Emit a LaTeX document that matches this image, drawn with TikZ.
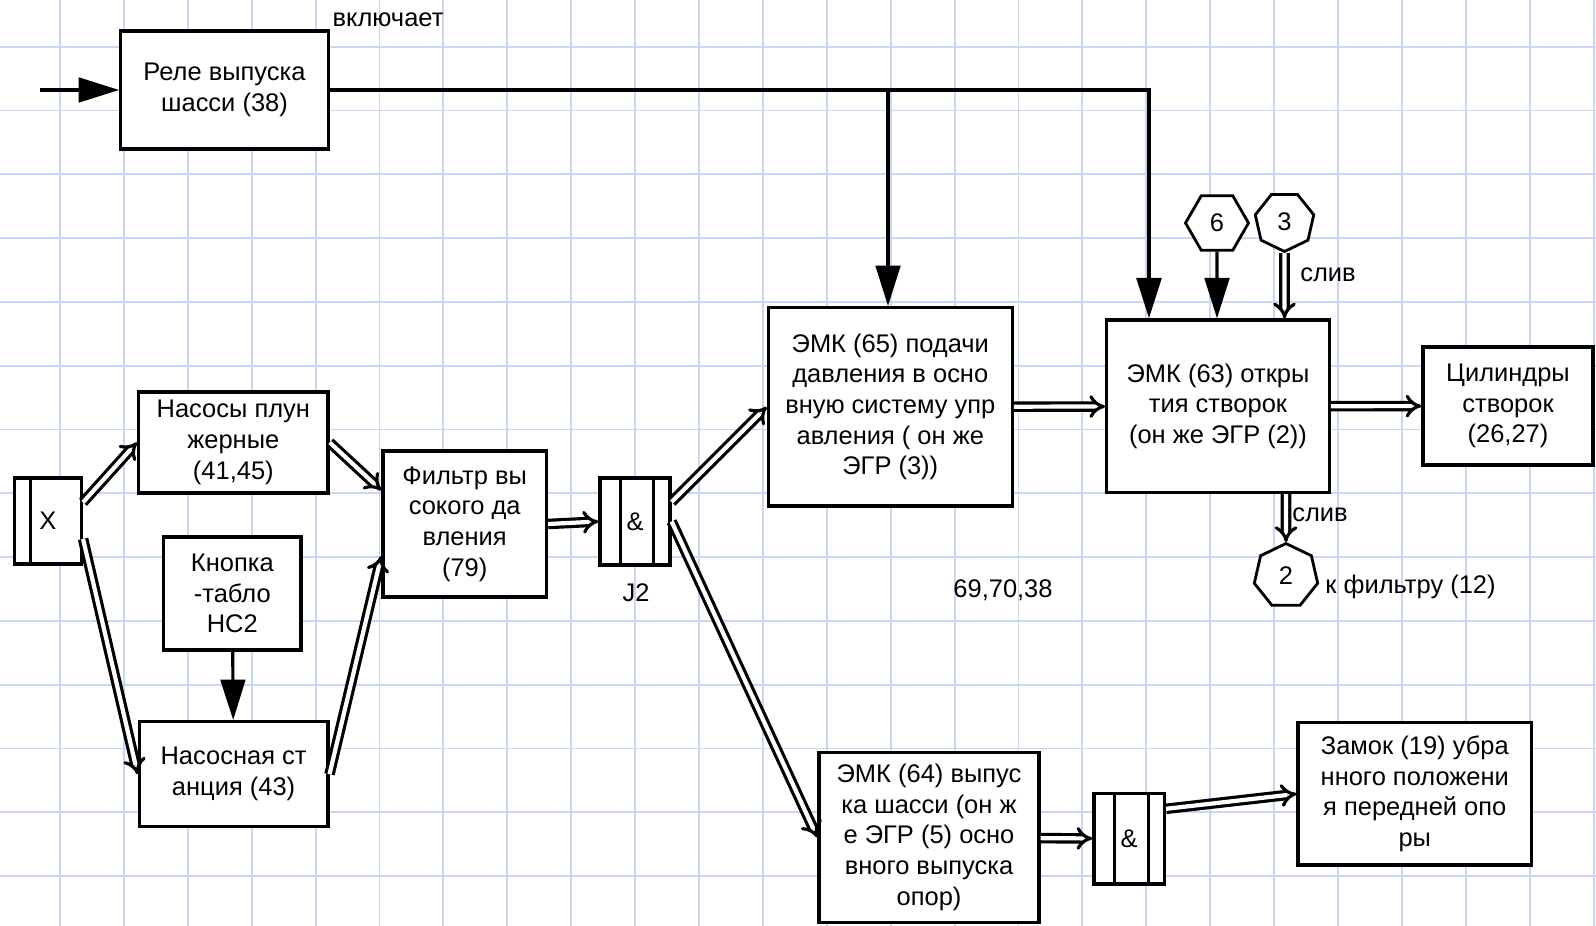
\documentclass[tikz,border=0pt]{standalone}
\usepackage{fontspec}
\setmainfont{Liberation Sans}
\usetikzlibrary{arrows.meta,shapes.geometric,calc}
\definecolor{gridblue}{RGB}{200,214,248}
\begin{document}
\begin{tikzpicture}[x=0.02cm,y=-0.02cm,
  blk/.style={draw,line width=1.9pt,fill=white,align=center,inner sep=0pt,
    font=\fontsize{14.5}{17.5}\selectfont},
  conn/.style={draw,line width=1.6pt,fill=white,regular polygon,inner sep=0pt,
    font=\fontsize{14.5}{17.5}\selectfont},
  lbl/.style={inner sep=0pt,font=\fontsize{14.5}{17.5}\selectfont},
  wire/.style={line width=1.8pt,-{Triangle[length=23pt,width=14pt]}},
  pipe/.style={line width=1.8pt,double=white,double distance=2.4pt,-{Implies}}]
\useasboundingbox[fill=white] (0,0) rectangle (1596,926);
\foreach \i in {0,...,24}
    \draw[gridblue,line width=1.1pt] ({60+63.9*\i},0) -- ++(0,926);
\foreach \j in {0,...,13}
    \draw[gridblue,line width=1.1pt] (0,{46.7+63.8*\j}) -- ++(1596,0);

\node[blk,minimum width=4.15cm,minimum height=2.36cm] (relay) at (224.5,90) {Реле выпуска\\шасси (38)};
\node[blk,minimum width=1.34cm,minimum height=1.72cm] (xin) at (47.9,521) {X};
\node[blk,minimum width=3.79cm,minimum height=2.02cm] (pumps) at (233.3,442.5) {Насосы плун\\жерные\\(41,45)};
\node[blk,minimum width=2.75cm,minimum height=2.26cm] (button) at (232.3,593.5) {Кнопка\\-табло\\НС2};
\node[blk,minimum width=3.77cm,minimum height=2.10cm] (station) at (233.6,774.2) {Насосная ст\\анция (43)};
\node[blk,minimum width=3.27cm,minimum height=2.92cm] (filter) at (464.7,524) {Фильтр вы\\сокого да\\вления\\(79)};
\node[blk,minimum width=1.40cm,minimum height=1.74cm] (and1) at (635,521.5) {\&};
\node[blk,minimum width=4.88cm,minimum height=3.97cm] (emk65) at (890.3,406.9) {ЭМК (65) подачи\\давления в осно\\вную систему упр\\авления ( он же\\ЭГР (3))};
\node[blk,minimum width=4.45cm,minimum height=3.45cm] (emk63) at (1218,406.3) {ЭМК (63) откры\\тия створок\\(он же ЭГР (2))};
\node[blk,minimum width=3.40cm,minimum height=2.36cm] (cyl) at (1508,406) {Цилиндры\\створок\\(26,27)};
\node[blk,minimum width=4.40cm,minimum height=3.41cm] (emk64) at (929,837.4) {ЭМК (64) выпус\\ка шасси (он ж\\е ЭГР (5) осно\\вного выпуска\\опор)};
\node[blk,minimum width=1.41cm,minimum height=1.81cm] (and2) at (1129.2,838.7) {\&};
\node[blk,minimum width=4.67cm,minimum height=2.85cm] (lock) at (1414.8,793.9) {Замок (19) убра\\нного положени\\я передней опо\\ры};
\node[conn,regular polygon sides=6,minimum size=1.26cm] (hex6) at (1217,223) {6};
\node[conn,regular polygon sides=7,shape border rotate=180,minimum size=1.2cm] (hep3) at (1284.5,221.5) {3};
\node[conn,regular polygon sides=7,minimum size=1.3cm] (hep2) at (1286,576) {2};

\foreach \n/\d in {xin/18,and1/22,and2/22}
    \draw[line width=1.7pt] ($(\n.north west)+(\d,0)$) -- ($(\n.south west)+(\d,0)$);
\foreach \n in {and1,and2}
    \draw[line width=1.7pt] ($(\n.north east)+(-18,0)$) -- ($(\n.south east)+(-18,0)$);

\node[lbl] (incl) at (388,20) {включает};
\node[lbl] (j2lbl) at (636,593) {J2};
\node[lbl] (refs) at (1003,590) {69,70,38};
\node[lbl,anchor=west] (drain1) at (1300,275) {слив};
\node[lbl,anchor=west] (drain2) at (1292,515) {слив};
\node[lbl,anchor=west] (tofilt) at (1325,587) {к фильтру (12)};

\coordinate (src) at (40,90);
\coordinate (tap1) at (888,90);
\coordinate (tap2) at (1149,90);
\draw[wire] (src) -- (relay.west);
\draw[wire,line width=2.2pt] (relay.east) -| (tap2 |- emk63.north);
\draw[wire] (tap1) -- (tap1 |- emk65.north);
\draw[wire] (hex6) -- (hex6 |- emk63.north);
\draw[wire] (button) -- (station);

\draw[pipe] (xin.28) -- (pumps.west);
\draw[pipe] (xin.-27) -- (station.west);
\draw[pipe] (pumps.east) -- (filter.158);
\draw[pipe] (station.east) -- (filter.201);
\draw[pipe] (filter.east) -- (and1.west);
\draw[pipe] (and1.28) -- (emk65.west);
\draw[pipe] (and1.east) -- (emk64.west);
\draw[pipe] (emk65) -- (emk63);
\draw[pipe] (emk63) -- (cyl);
\draw[pipe] (hep3) -- (hep3 |- emk63.north);
\draw[pipe] (hep2 |- emk63.south) -- (hep2);
\draw[pipe] (emk64) -- (and2);
\draw[pipe] (and2.39) -- (lock.west);
\end{tikzpicture}
\end{document}
